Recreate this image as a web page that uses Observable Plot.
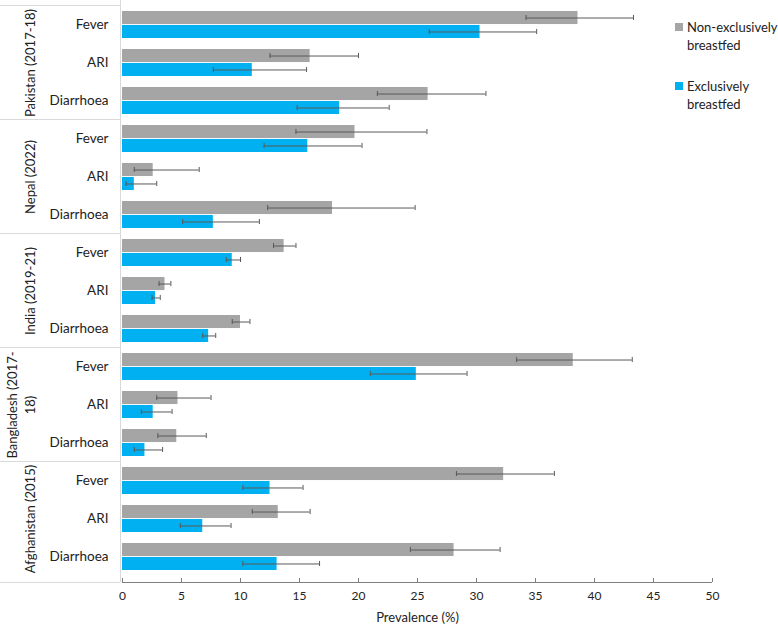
<!DOCTYPE html>
<html>
<head>
<meta charset="utf-8">
<script src="https://cdn.jsdelivr.net/npm/d3@7"></script>
<script src="https://cdn.jsdelivr.net/npm/@observablehq/plot@0.6"></script>
<style>
  html, body { margin: 0; padding: 0; background: #fff; }
  #wrap { position: relative; width: 778px; height: 624px; font-family: Lato, "Open Sans", sans-serif; }
  #legend { position: absolute; left: 675px; top: 18px; font-size: 13px; color: #222; line-height: 18px; white-space: nowrap; }
  .item { display: flex; align-items: flex-start; margin-bottom: 23px; }
  .sw { width: 8px; height: 8px; margin-top: 5px; margin-right: 4px; flex: none; }
</style>
</head>
<body>
<div id="wrap"></div>
<script>
const countries = ["Pakistan (2017-18)", "Nepal (2022)", "India (2019-21)", "Bangladesh (2017-18)", "Afghanistan (2015)"];
const countryLabels = ["Pakistan (2017-18)", "Nepal (2022)", "India (2019-21)", "Bangladesh (2017-\n18)", "Afghanistan (2015)"];
const conditions = ["Fever", "ARI", "Diarrhoea"];
const seriesNames = ["Non-exclusively breastfed", "Exclusively breastfed"];
const seriesColors = ["#A5A5A5", "#00B0F0"];

// Non-exclusively breastfed: value, lower CI, upper CI (rows: country; cols: Fever, ARI, Diarrhoea)
const nonExcl   = [[38.6, 15.9, 25.9], [19.7, 2.6, 17.8], [13.7, 3.6, 10.0], [38.2, 4.7, 4.6], [32.3, 13.2, 28.1]];
const nonExclLo = [[34.2, 12.5, 21.6], [14.7, 1.0, 12.3], [12.8, 3.1, 9.3], [33.4, 2.9, 3.0], [28.3, 11.0, 24.4]];
const nonExclHi = [[43.3, 20.0, 30.8], [25.8, 6.5, 24.8], [14.7, 4.1, 10.8], [43.2, 7.5, 7.1], [36.6, 15.9, 32.0]];
// Exclusively breastfed
const excl   = [[30.3, 11.0, 18.4], [15.7, 1.0, 7.7], [9.3, 2.8, 7.3], [24.9, 2.6, 1.9], [12.5, 6.8, 13.1]];
const exclLo = [[26.0, 7.7, 14.8], [12.0, 0.3, 5.1], [8.8, 2.5, 6.8], [21.0, 1.6, 1.0], [10.2, 4.9, 10.2]];
const exclHi = [[35.1, 15.6, 22.6], [20.3, 2.9, 11.6], [10.0, 3.2, 7.9], [29.2, 4.2, 3.4], [15.3, 9.2, 16.7]];

const xTicks = [0, 5, 10, 15, 20, 25, 30, 35, 40, 45, 50];
const xLabel = "Prevalence (%)";

const rows = [];
countries.forEach((c, i) => conditions.forEach((k, j) => rows.push({
  key: c + "|" + k, country: c, condition: k,
  ne: nonExcl[i][j], neLo: nonExclLo[i][j], neHi: nonExclHi[i][j],
  ex: excl[i][j], exLo: exclLo[i][j], exHi: exclHi[i][j]
})));
const keys = rows.map(d => d.key);
const countryRows = countries.map((c, i) => ({key: c + "|" + conditions[1], label: countryLabels[i]}));

const W = 778, H = 624, mL = 122, mR = 66, mT = 0, mB = 42;
const step = (H - mT - mB) / keys.length;
const pad = 0.28;
const bw = step * (1 - pad);
const half = bw / 2;
const cap = 3;
const errColor = "#595959";

const chart = Plot.plot({
  width: W, height: H,
  marginLeft: mL, marginRight: mR, marginTop: mT, marginBottom: mB,
  style: {fontFamily: "Lato, 'Open Sans', sans-serif", color: "#222", background: "#fff"},
  x: {domain: [0, 50]},
  y: {domain: keys, paddingInner: pad, paddingOuter: pad / 2},
  marks: [
    Plot.barX(rows, {x: "ne", y: "key", fill: seriesColors[0], insetBottom: half}),
    Plot.barX(rows, {x: "ex", y: "key", fill: seriesColors[1], insetTop: half}),
    Plot.ruleY(rows, {x1: "neLo", x2: "neHi", y: "key", dy: -half / 2, stroke: errColor, strokeWidth: 1}),
    Plot.ruleY(rows, {x1: "exLo", x2: "exHi", y: "key", dy: half / 2, stroke: errColor, strokeWidth: 1}),
    Plot.tickX(rows, {x: "neLo", y: "key", stroke: errColor, insetTop: half / 2 - cap, insetBottom: half * 1.5 - cap}),
    Plot.tickX(rows, {x: "neHi", y: "key", stroke: errColor, insetTop: half / 2 - cap, insetBottom: half * 1.5 - cap}),
    Plot.tickX(rows, {x: "exLo", y: "key", stroke: errColor, insetTop: half * 1.5 - cap, insetBottom: half / 2 - cap}),
    Plot.tickX(rows, {x: "exHi", y: "key", stroke: errColor, insetTop: half * 1.5 - cap, insetBottom: half / 2 - cap}),
    Plot.axisY({tickFormat: d => d.split("|")[1], tickSize: 0, tickPadding: 14, fontSize: 13.5, label: null}),
    Plot.axisX({ticks: xTicks, tickFormat: d => d, tickSize: -4, tickPadding: 13, fontSize: 12, label: null, stroke: "#7f7f7f"}),
    Plot.text([xLabel], {text: d => d, frameAnchor: "bottom", textAnchor: "middle", dy: 39, lineAnchor: "bottom", fontSize: 13}),
    Plot.text(countryRows, {y: "key", text: "label", frameAnchor: "left", textAnchor: "middle", dx: -88, rotate: -90, lineAnchor: "bottom", fontSize: 13, lineHeight: 1.35})
  ]
});

// structural lines: axis line, category separators, left border
const svg = d3.select(chart);
const xs = chart.scale("x"), ys = chart.scale("y");
const x0 = xs.apply(0), x1 = xs.apply(50);
const yTop = mT, yBot = H - mB;
const g = svg.append("g");
g.append("line").attr("x1", x0).attr("x2", x1).attr("y1", yBot + 0.5).attr("y2", yBot + 0.5).attr("stroke", "#7f7f7f");
g.append("line").attr("x1", x0 - 1.5).attr("x2", x0 - 1.5).attr("y1", yTop).attr("y2", yBot).attr("stroke", "#D9D9D9");
countries.forEach((c, i) => {
  const y = ys.apply(c + "|" + conditions[0]) - (ys.step - ys.bandwidth) / 2;
  g.append("line").attr("x1", 0).attr("x2", x0 - 1.5).attr("y1", Math.max(y, 0.5)).attr("y2", Math.max(y, 0.5)).attr("stroke", "#D9D9D9");
});
g.append("line").attr("x1", 0).attr("x2", x0 - 1.5).attr("y1", yBot + 0.5).attr("y2", yBot + 0.5).attr("stroke", "#D9D9D9");

const wrap = document.getElementById("wrap");
wrap.appendChild(chart);

const legend = document.createElement("div");
legend.id = "legend";
const legendLines = [["Non-exclusively", "breastfed"], ["Exclusively", "breastfed"]];
seriesNames.forEach((s, i) => {
  const item = document.createElement("div");
  item.className = "item";
  const sw = document.createElement("div");
  sw.className = "sw";
  sw.style.background = seriesColors[i];
  const t = document.createElement("div");
  t.innerHTML = legendLines[i].join("<br>");
  item.appendChild(sw); item.appendChild(t);
  legend.appendChild(item);
});
wrap.appendChild(legend);
</script>
</body>
</html>
